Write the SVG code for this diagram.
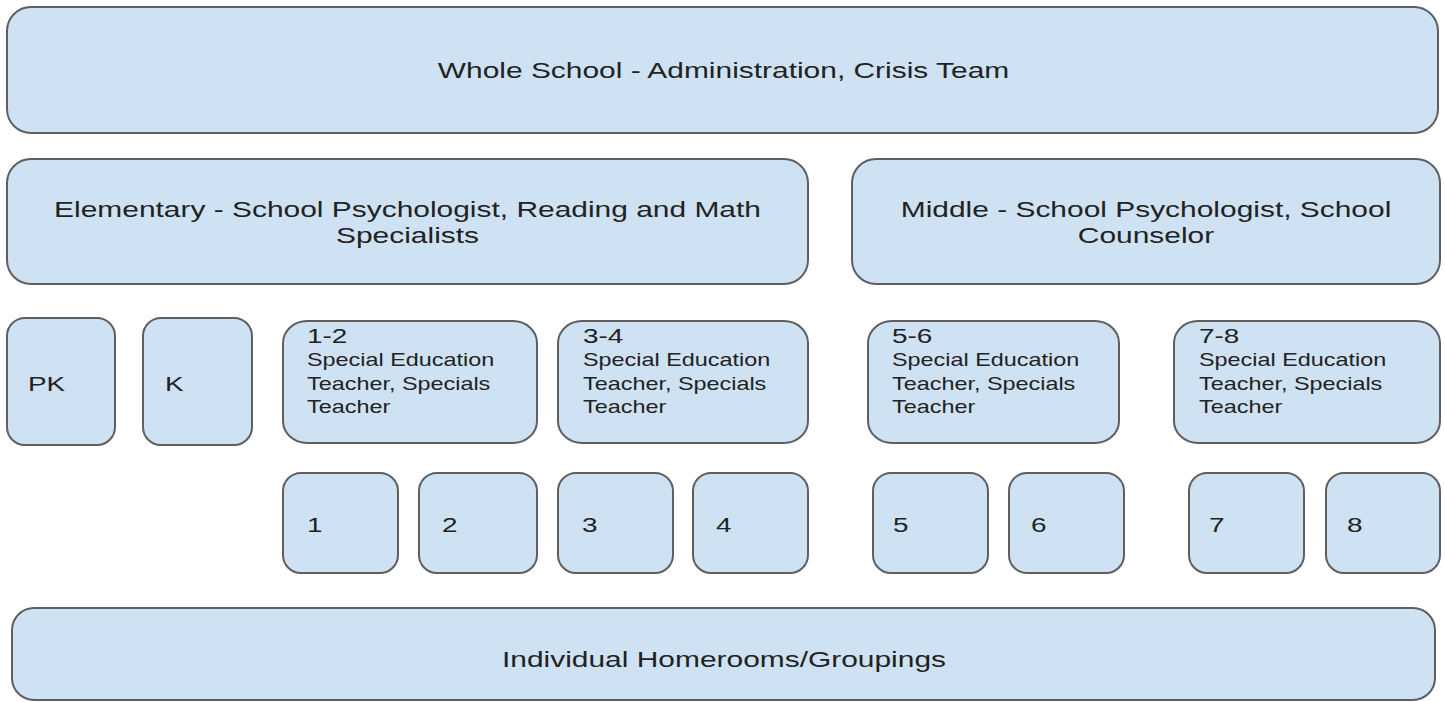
<svg xmlns="http://www.w3.org/2000/svg" width="1445" height="702" viewBox="0 0 1445 702">
<style>
  .box { fill: #cfe2f3; stroke: #5f5f5f; stroke-width: 2; }
  text { font-family: "Liberation Sans", Arial, sans-serif; fill: #222222; }
  .big { font-size: 22.5px; }
  .hdr { font-size: 21px; }
  .sm { font-size: 17.6px; }
  .mid { text-anchor: middle; }
</style>
<rect width="1445" height="702" fill="#ffffff"/>
<g id="connectors"></g>

<g id="whole-school">
  <rect class="box" x="7" y="7" width="1431" height="126" rx="24" ry="24"/>
  <text class="big mid" transform="translate(723.5,0) scale(1.33,1)" x="0" y="78">Whole School - Administration, Crisis Team</text>
</g>

<g id="elementary">
  <rect class="box" x="7" y="159" width="801" height="125" rx="24" ry="24"/>
  <text class="big mid" transform="translate(407.5,0) scale(1.33,1)"><tspan x="0" y="217">Elementary - School Psychologist, Reading and Math</tspan><tspan x="0" y="243">Specialists</tspan></text>
</g>

<g id="middle">
  <rect class="box" x="852" y="159" width="588" height="125" rx="24" ry="24"/>
  <text class="big mid" transform="translate(1146,0) scale(1.33,1)"><tspan x="0" y="217">Middle - School Psychologist, School</tspan><tspan x="0" y="243">Counselor</tspan></text>
</g>

<g id="pk">
  <rect class="box" x="7" y="318" width="108" height="127" rx="18" ry="18"/>
  <text class="hdr" transform="translate(28,0) scale(1.33,1)" x="0" y="391">PK</text>
</g>

<g id="k">
  <rect class="box" x="143" y="318" width="109" height="127" rx="18" ry="18"/>
  <text class="hdr" transform="translate(165,0) scale(1.33,1)" x="0" y="391">K</text>
</g>

<g id="grades-1-2">
  <rect class="box" x="283" y="321" width="254" height="122" rx="24" ry="22"/>
  <text transform="translate(307,0) scale(1.33,1)"><tspan class="hdr" x="0" y="343">1-2</tspan><tspan class="sm" x="0" y="366">Special Education</tspan><tspan class="sm" x="0" y="390">Teacher, Specials</tspan><tspan class="sm" x="0" y="413">Teacher</tspan></text>
</g>

<g id="grades-3-4">
  <rect class="box" x="558" y="321" width="250" height="122" rx="24" ry="22"/>
  <text transform="translate(583,0) scale(1.33,1)"><tspan class="hdr" x="0" y="343">3-4</tspan><tspan class="sm" x="0" y="366">Special Education</tspan><tspan class="sm" x="0" y="390">Teacher, Specials</tspan><tspan class="sm" x="0" y="413">Teacher</tspan></text>
</g>

<g id="grades-5-6">
  <rect class="box" x="868" y="321" width="251" height="122" rx="24" ry="22"/>
  <text transform="translate(892,0) scale(1.33,1)"><tspan class="hdr" x="0" y="343">5-6</tspan><tspan class="sm" x="0" y="366">Special Education</tspan><tspan class="sm" x="0" y="390">Teacher, Specials</tspan><tspan class="sm" x="0" y="413">Teacher</tspan></text>
</g>

<g id="grades-7-8">
  <rect class="box" x="1174" y="321" width="266" height="122" rx="24" ry="22"/>
  <text transform="translate(1199,0) scale(1.33,1)"><tspan class="hdr" x="0" y="343">7-8</tspan><tspan class="sm" x="0" y="366">Special Education</tspan><tspan class="sm" x="0" y="390">Teacher, Specials</tspan><tspan class="sm" x="0" y="413">Teacher</tspan></text>
</g>

<g id="grade-1">
  <rect class="box" x="283" y="473" width="115" height="100" rx="18" ry="18"/>
  <text class="hdr" transform="translate(307,0) scale(1.33,1)" x="0" y="532">1</text>
</g>
<g id="grade-2">
  <rect class="box" x="419" y="473" width="118" height="100" rx="18" ry="18"/>
  <text class="hdr" transform="translate(442,0) scale(1.33,1)" x="0" y="532">2</text>
</g>
<g id="grade-3">
  <rect class="box" x="558" y="473" width="115" height="100" rx="18" ry="18"/>
  <text class="hdr" transform="translate(582,0) scale(1.33,1)" x="0" y="532">3</text>
</g>
<g id="grade-4">
  <rect class="box" x="693" y="473" width="115" height="100" rx="18" ry="18"/>
  <text class="hdr" transform="translate(716,0) scale(1.33,1)" x="0" y="532">4</text>
</g>
<g id="grade-5">
  <rect class="box" x="873" y="473" width="115" height="100" rx="18" ry="18"/>
  <text class="hdr" transform="translate(893,0) scale(1.33,1)" x="0" y="532">5</text>
</g>
<g id="grade-6">
  <rect class="box" x="1009" y="473" width="115" height="100" rx="18" ry="18"/>
  <text class="hdr" transform="translate(1031,0) scale(1.33,1)" x="0" y="532">6</text>
</g>
<g id="grade-7">
  <rect class="box" x="1189" y="473" width="115" height="100" rx="18" ry="18"/>
  <text class="hdr" transform="translate(1209,0) scale(1.33,1)" x="0" y="532">7</text>
</g>
<g id="grade-8">
  <rect class="box" x="1326" y="473" width="114" height="100" rx="18" ry="18"/>
  <text class="hdr" transform="translate(1347,0) scale(1.33,1)" x="0" y="532">8</text>
</g>

<g id="homerooms">
  <rect class="box" x="12" y="608" width="1423" height="92" rx="22" ry="22"/>
  <text class="big mid" transform="translate(724,0) scale(1.33,1)" x="0" y="667">Individual Homerooms/Groupings</text>
</g>
</svg>
